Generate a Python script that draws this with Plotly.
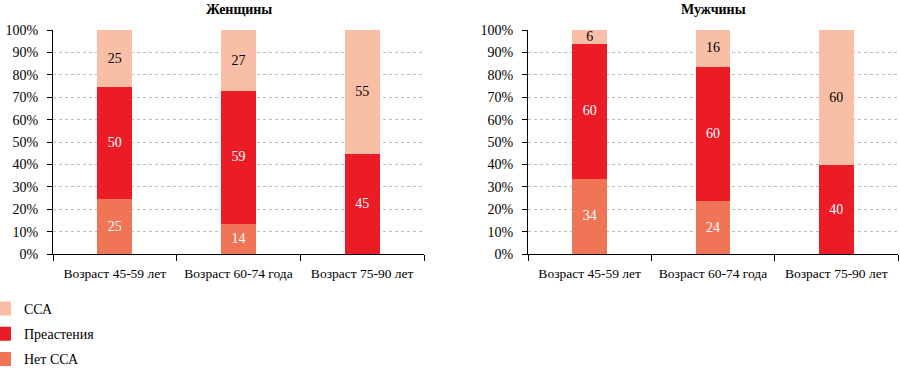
import plotly.graph_objects as go

categories = ["Возраст 45-59 лет", "Возраст 60-74 года", "Возраст 75-90 лет"]
women_net = [25, 14, 0]
women_pre = [50, 59, 45]
women_ssa = [25, 27, 55]
men_net = [34, 24, 0]
men_pre = [60, 60, 40]
men_ssa = [6, 16, 60]
y_ticks = list(range(0, 101, 10))
y_tick_text = [f"{v}%" for v in y_ticks]
titles = ["Женщины", "Мужчины"]

series_names = ["Нет ССА", "Преастения", "ССА"]
legend_ranks = [3, 2, 1]
colors = ["#F07556", "#EC1C27", "#F9BEA6"]
text_colors = ["white", "white", "black"]
FONT = "'Liberation Serif', 'Times New Roman', 'DejaVu Serif', serif"

W, H = 900, 368
dom_left = [53 / W, 424 / W]
dom_right = [528 / W, 898 / W]
dom_y = [1 - 254 / H, 1 - 30 / H]

fig = go.Figure()

panels = [
    ("x", "y", [women_net, women_pre, women_ssa], True),
    ("x2", "y2", [men_net, men_pre, men_ssa], False),
]
for xa, ya, data, show in panels:
    for name, vals, col, tcol, rk in zip(series_names, data, colors, text_colors, legend_ranks):
        fig.add_trace(go.Bar(
            x=categories, y=vals, name=name,
            xaxis=xa, yaxis=ya,
            marker=dict(color=col, line=dict(color=col, width=2)),
            width=0.265,
            text=[str(v) if v else "" for v in vals],
            textposition="inside", insidetextanchor="middle", textangle=0,
            textfont=dict(family=FONT, size=14, color=tcol),
            legendgroup=name, legendrank=rk, showlegend=show,
            hoverinfo="skip",
        ))

axis_x = dict(
    showline=True, linecolor="black", linewidth=1,
    ticks="outside", tickson="boundaries", ticklen=6, tickcolor="black",
    showgrid=False, range=[-0.5, 2.5],
    tickfont=dict(family=FONT, size=13.5, color="black"),
    ticklabelstandoff=7, fixedrange=True,
)
axis_y = dict(
    range=[0, 100], tickvals=y_ticks, ticktext=y_tick_text,
    showline=True, linecolor="black", linewidth=1,
    ticks="outside", ticklen=5, tickcolor="black",
    showgrid=True, gridcolor="#bdbdbd", griddash="dot", gridwidth=1,
    zeroline=False,
    tickfont=dict(family=FONT, size=14, color="black"),
    ticklabelstandoff=6, fixedrange=True,
)

fig.update_layout(
    width=W, height=H,
    margin=dict(l=0, r=0, t=0, b=0, autoexpand=False),
    paper_bgcolor="white", plot_bgcolor="white",
    barmode="stack",
    xaxis=dict(axis_x, domain=dom_left, anchor="y"),
    yaxis=dict(axis_y, domain=dom_y, anchor="x"),
    xaxis2=dict(axis_x, domain=dom_right, anchor="y2"),
    yaxis2=dict(axis_y, domain=dom_y, anchor="x2"),
    showlegend=True,
    legend=dict(
        x=-16 / W, y=1 - 293 / H, xanchor="left", yanchor="top",
        traceorder="grouped", tracegroupgap=4,
        font=dict(family=FONT, size=14, color="black"),
        bgcolor="rgba(0,0,0,0)",
    ),
    uniformtext=dict(minsize=14, mode="show"),
    font=dict(family=FONT, color="black"),
)

centers = [(dom_left[0] + dom_left[1]) / 2, (dom_right[0] + dom_right[1]) / 2]
for t, cx in zip(titles, centers):
    fig.add_annotation(
        text=f"<b>{t}</b>", x=cx, y=1 - 9 / H, xref="paper", yref="paper",
        xanchor="center", yanchor="middle", showarrow=False,
        font=dict(family=FONT, size=14, color="black"),
    )

fig.write_html(
    "out.html",
    config={"displayModeBar": False, "staticPlot": True},
    post_script="document.body.style.margin='0';document.body.style.overflow='hidden';",
)
